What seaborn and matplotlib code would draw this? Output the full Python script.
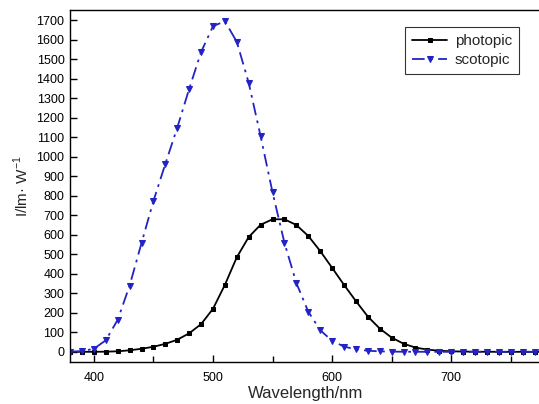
import matplotlib
matplotlib.use("Agg")
import matplotlib.pyplot as plt
from matplotlib.ticker import MultipleLocator
import seaborn as sns

# Wavelength grid (nm) and luminous efficacy of the two vision regimes (lm/W)
wavelength = list(range(380, 790, 10))

photopic = [0.03, 0.08, 0.27, 0.83, 2.7, 7.9, 15.7, 26.0, 41.0, 62.1,
            95.0, 142.1, 220.6, 343.5, 484.9, 588.7, 651.6, 679.5, 679.6, 650.2,
            594.2, 517.0, 431.0, 343.5, 260.2, 181.0, 119.5, 73.1, 41.7, 21.9,
            11.6, 5.6, 2.8, 1.4, 0.7, 0.36, 0.17, 0.08, 0.04, 0.02,
            0.01]

scotopic = [1.0, 3.8, 15.8, 59.2, 164.2, 339.7, 557.8, 773.5, 963.9, 1149.2,
            1348.1, 1536.8, 1669.4, 1694.9, 1589.5, 1378.7, 1105.0, 817.7, 559.0, 352.9,
            206.0, 111.4, 56.4, 27.1, 12.5, 5.7, 2.5, 1.2, 0.5, 0.25,
            0.12, 0.06, 0.03, 0.015, 0.008, 0.004, 0.002, 0.001, 0.0005, 0.0003,
            0.0002]

series_names = ["photopic", "scotopic"]
x_label = "Wavelength/nm"
y_label = "I/lm· W$^{-1}$"

sns.set_style("white")
plt.rcParams["font.family"] = ["Liberation Sans", "DejaVu Sans"]
plt.rcParams["mathtext.fontset"] = "custom"
plt.rcParams["mathtext.rm"] = "Liberation Sans"

fig = plt.figure(figsize=(5.39, 4.04), dpi=100)
ax = fig.add_axes([0.130, 0.104, 0.875, 0.871])

blue = "#2323c4"

sns.lineplot(x=wavelength, y=photopic, ax=ax, color="black", linewidth=1.3,
             marker="s", markersize=3.4, markeredgecolor="black",
             label=series_names[0])
sns.lineplot(x=wavelength, y=scotopic, ax=ax, color=blue, linewidth=1.3,
             marker="v", markersize=4.5, markeredgecolor=blue,
             dashes=(7, 3, 1.5, 3), label=series_names[1])

ax.set_xlim(380, 776)
ax.set_ylim(-52, 1752)
ax.xaxis.set_major_locator(MultipleLocator(100))
ax.xaxis.set_minor_locator(MultipleLocator(50))
ax.yaxis.set_major_locator(MultipleLocator(100))

ax.tick_params(axis="both", which="both", direction="in", colors="black",
               labelsize=9, width=1.0)
ax.tick_params(axis="both", which="major", length=5)
ax.tick_params(axis="y", which="major", pad=4, left=True)
ax.tick_params(axis="x", which="major", pad=7, bottom=True)
ax.tick_params(axis="x", which="minor", length=4, bottom=True)

for side in ["left", "bottom", "top"]:
    ax.spines[side].set_visible(True)
    ax.spines[side].set_color("black")
    ax.spines[side].set_linewidth(1.0)
ax.spines["right"].set_visible(False)

ax.set_xlabel(x_label, fontsize=12, labelpad=2)
ax.set_ylabel(y_label, fontsize=11, labelpad=4)

leg = ax.legend(loc="upper right", bbox_to_anchor=(0.952, 0.952), fontsize=11,
                frameon=True, fancybox=False, handlelength=2.3,
                borderpad=0.45, labelspacing=0.35, handletextpad=0.5,
                borderaxespad=0)
leg.get_frame().set_edgecolor("black")
leg.get_frame().set_linewidth(0.8)

fig.savefig("out.png", dpi=100)
